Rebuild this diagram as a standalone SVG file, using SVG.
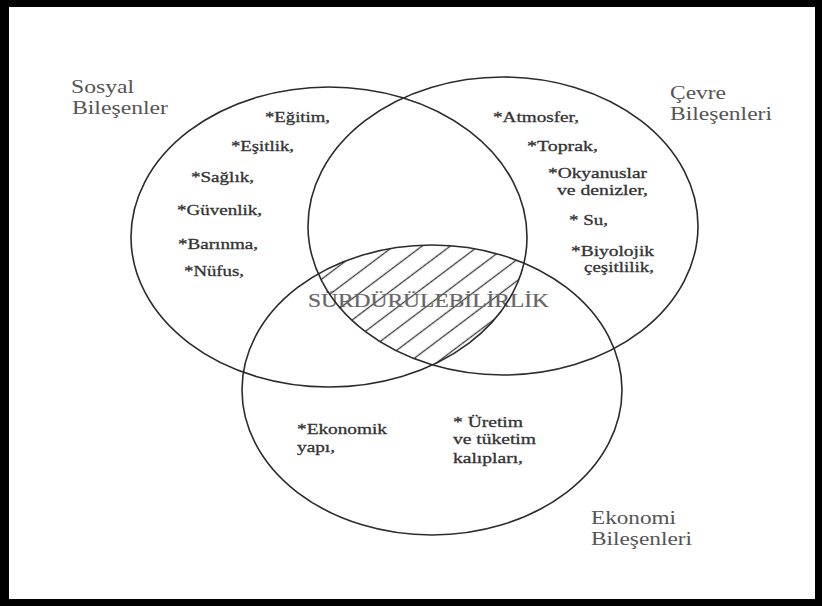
<svg xmlns="http://www.w3.org/2000/svg" width="822" height="606" viewBox="0 0 822 606">
  <style>
    .ring { fill: none; stroke: #2b2b2b; stroke-width: 1.6; }
    .lbl { font-family: "Liberation Serif", "Times New Roman", serif; font-size: 18px; fill: #555; }
    .itm { font-family: "Liberation Serif", "Times New Roman", serif; font-size: 15px; fill: #333; stroke: #333; stroke-width: 0.3; }
    .core { font-family: "Liberation Serif", "Times New Roman", serif; font-size: 18px; fill: #666; stroke: #666; stroke-width: 0.2; }
  </style>
  <defs>
    <pattern id="hatch" patternUnits="userSpaceOnUse" width="12" height="17" patternTransform="rotate(-37)">
      <line x1="-1" y1="8.5" x2="13" y2="8.5" stroke="#3a3a3a" stroke-width="1.3"/>
    </pattern>
    <clipPath id="clipL"><ellipse cx="329" cy="237" rx="198" ry="150"/></clipPath>
    <clipPath id="clipR"><ellipse cx="503" cy="226" rx="195" ry="149"/></clipPath>
    <clipPath id="clipB"><ellipse cx="432" cy="390" rx="190" ry="145"/></clipPath>
  </defs>

  <rect x="0" y="0" width="822" height="606" fill="#000"/>
  <rect x="9" y="7" width="806" height="592" fill="#fff"/>

  <g id="sustainability">
    <g clip-path="url(#clipL)">
      <g clip-path="url(#clipR)">
        <rect x="280" y="230" width="280" height="150" fill="url(#hatch)" clip-path="url(#clipB)"/>
      </g>
    </g>
    <text class="core" x="308" y="307" textLength="241" lengthAdjust="spacingAndGlyphs">SÜRDÜRÜLEBİLİRLİK</text>
  </g>

  <g id="sosyal">
    <ellipse class="ring" cx="329" cy="237" rx="198" ry="150"/>
    <text class="lbl" x="71" y="93" textLength="63" lengthAdjust="spacingAndGlyphs">Sosyal</text>
    <text class="lbl" x="72" y="114" textLength="96" lengthAdjust="spacingAndGlyphs">Bileşenler</text>
    <text class="itm" x="265" y="122" textLength="65" lengthAdjust="spacingAndGlyphs">*Eğitim,</text>
    <text class="itm" x="231" y="151" textLength="63" lengthAdjust="spacingAndGlyphs">*Eşitlik,</text>
    <text class="itm" x="191" y="182" textLength="63" lengthAdjust="spacingAndGlyphs">*Sağlık,</text>
    <text class="itm" x="177" y="215" textLength="85" lengthAdjust="spacingAndGlyphs">*Güvenlik,</text>
    <text class="itm" x="178" y="249" textLength="80" lengthAdjust="spacingAndGlyphs">*Barınma,</text>
    <text class="itm" x="184" y="276" textLength="60" lengthAdjust="spacingAndGlyphs">*Nüfus,</text>
  </g>

  <g id="cevre">
    <ellipse class="ring" cx="503" cy="226" rx="195" ry="149"/>
    <text class="lbl" x="670" y="99" textLength="56" lengthAdjust="spacingAndGlyphs">Çevre</text>
    <text class="lbl" x="670" y="120" textLength="102" lengthAdjust="spacingAndGlyphs">Bileşenleri</text>
    <text class="itm" x="493" y="122" textLength="86" lengthAdjust="spacingAndGlyphs">*Atmosfer,</text>
    <text class="itm" x="527" y="151" textLength="71" lengthAdjust="spacingAndGlyphs">*Toprak,</text>
    <text class="itm" x="548" y="178" textLength="99" lengthAdjust="spacingAndGlyphs">*Okyanuslar</text>
    <text class="itm" x="557" y="195" textLength="91" lengthAdjust="spacingAndGlyphs">ve denizler,</text>
    <text class="itm" x="569" y="225" textLength="39" lengthAdjust="spacingAndGlyphs">* Su,</text>
    <text class="itm" x="571" y="256" textLength="83" lengthAdjust="spacingAndGlyphs">*Biyolojik</text>
    <text class="itm" x="584" y="272" textLength="70" lengthAdjust="spacingAndGlyphs">çeşitlilik,</text>
  </g>

  <g id="ekonomi">
    <ellipse class="ring" cx="432" cy="390" rx="190" ry="145"/>
    <text class="lbl" x="591" y="524" textLength="85" lengthAdjust="spacingAndGlyphs">Ekonomi</text>
    <text class="lbl" x="591" y="545" textLength="101" lengthAdjust="spacingAndGlyphs">Bileşenleri</text>
    <text class="itm" x="297" y="434" textLength="90" lengthAdjust="spacingAndGlyphs">*Ekonomik</text>
    <text class="itm" x="297" y="452" textLength="38" lengthAdjust="spacingAndGlyphs">yapı,</text>
    <text class="itm" x="453" y="427" textLength="70" lengthAdjust="spacingAndGlyphs">* Üretim</text>
    <text class="itm" x="453" y="444" textLength="83" lengthAdjust="spacingAndGlyphs">ve tüketim</text>
    <text class="itm" x="453" y="463" textLength="70" lengthAdjust="spacingAndGlyphs">kalıpları,</text>
  </g>

  <g id="connectors"/>
</svg>
